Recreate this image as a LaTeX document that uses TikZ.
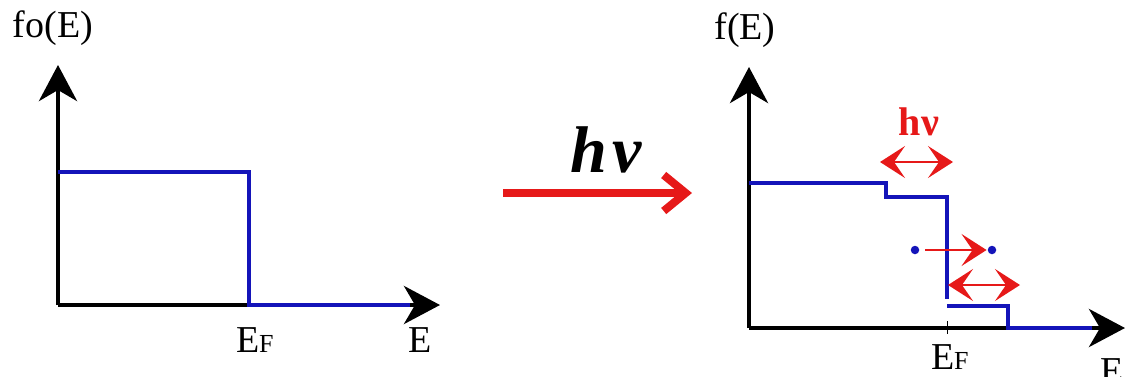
\documentclass[tikz,border=0pt]{standalone}
\usepackage{fontspec}
\setmainfont{Liberation Serif}
\usetikzlibrary{arrows.meta}
\definecolor{fblue}{RGB}{20,20,185}
\definecolor{fred}{RGB}{230,25,25}
\tikzset{
  axis/.style={line width=4.5pt, -{Stealth[length=36pt,width=38pt,inset=11pt]}},
  level/.style={draw=fblue, line width=4pt},
  redtip/.tip={Stealth[length=25pt,width=32pt,inset=11pt]},
  redarrow/.style={draw=fred, line width=2pt, -redtip},
  reddouble/.style={draw=fred, line width=2pt, redtip-redtip},
  lbl/.style={inner sep=0pt, anchor=base, font=\fontsize{38}{42}\selectfont},
  dot/.style={circle, fill=fblue, inner sep=0pt, minimum size=8.5pt}
}
\newcommand{\EFlabel}{E\kern-0.5pt{\fontsize{26}{28}\selectfont F}}
\begin{document}
\begin{tikzpicture}[x=1pt,y=-1pt]
\useasboundingbox (0,0) rectangle (1125,376);
% ---------- left panel ----------
\coordinate (O1) at (58,305);
\coordinate (Y1) at (58,65);
\coordinate (X1) at (440,305);
\coordinate (a1) at (58,172);
\coordinate (a2) at (249,172);
\coordinate (a3) at (249,305);
\coordinate (a4) at (410,305);
\draw[axis] (O1) -- (Y1);
\draw[axis] (O1) -- (X1);
\draw[level, line join=miter] (a1) -- (a2) -- (a3) -- (a4);
\node[lbl] (fo) at (53,37) {fo(E)};
\node[lbl] (ef1) at (255,352) {\EFlabel};
\node[lbl] (e1) at (420,352) {E};
% ---------- middle ----------
\node[inner sep=0pt, anchor=base, font=\fontsize{66}{70}\selectfont\bfseries\itshape] (hnu) at (606,172) {h\kern6pt ν};
\coordinate (m1) at (503,193);
\coordinate (m2) at (692,193);
\draw[draw=fred, line width=8pt, -{Straight Barb[length=22pt,width=36pt,line width=8pt]}] (m1) -- (m2);
% ---------- right panel ----------
\coordinate (O2) at (749,328);
\coordinate (Y2) at (749,67);
\coordinate (X2) at (1125,328);
\draw[axis] (O2) -- (Y2);
\draw[axis] (O2) -- (X2);
\coordinate (t1) at (947,321);
\coordinate (t2) at (947,334);
\draw[line width=0.8pt] (t1) -- (t2);
\coordinate (b1) at (749,183);
\coordinate (b2) at (886,183);
\coordinate (b3) at (886,197);
\coordinate (b4) at (947,197);
\coordinate (b5) at (947,299);
\draw[level, line join=miter] (b1) -- (b2) -- (b3) -- (b4) -- (b5);
\coordinate (c1) at (947,306);
\coordinate (c2) at (1008,306);
\coordinate (c3) at (1008,328);
\coordinate (c4) at (1092,328);
\draw[level, line join=miter] (c1) -- (c2) -- (c3) -- (c4);
\node[lbl] (fE) at (745,39) {f(E)};
\node[lbl] (ef2) at (950,369) {\EFlabel};
\node[lbl, anchor=base west] (e2) at (1100,383) {E};
\node[inner sep=0pt, anchor=base, text=fred, font=\fontsize{40}{44}\selectfont\bfseries] (hnu2) at (919,135) {hν};
\coordinate (d1) at (880,162);
\coordinate (d2) at (953,162);
\draw[reddouble] (d1) -- (d2);
\node[dot] (p1) at (915,250) {};
\node[dot] (p2) at (992,250) {};
\draw[redarrow, shorten <=6pt, shorten >=1pt] (p1) -- (p2);
\coordinate (e1a) at (948,285);
\coordinate (e1b) at (1020,285);
\draw[reddouble] (e1a) -- (e1b);
\end{tikzpicture}
\end{document}
